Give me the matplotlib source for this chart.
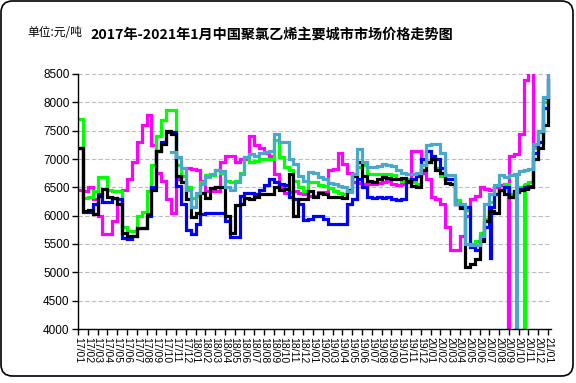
import numpy as np
import matplotlib
matplotlib.use('Agg')
from matplotlib import pyplot as plt
from matplotlib.patches import FancyBboxPatch
from matplotlib.transforms import ScaledTranslation

# half-month steps from 17/01 (0) to 21/01 (48)
months = np.arange(0, 48.5, 0.5)
month_labels = ['%d/%02d' % (17 + i // 12, i % 12 + 1) for i in range(49)]

magenta = [6450, 6440, 6500, 6300, 6000, 5680, 5680, 5900, 6200, 6450, 6650, 6950, 7300, 7600, 7780, 7250, 6750, 6620, 6300, 6050,
           6650, 6700, 6850, 6820, 6800, 6620, 6440, 6440, 6440, 6950, 7060, 7060, 6950, 7000, 7000, 7400, 7250, 7200, 7100, 7050,
           6740, 6500, 6400, 6420, 6430, 6400, 6380, 6350, 6350, 6420, 6420, 6800, 6820, 7100, 6920, 6760, 6600, 6580, 6560, 6560,
           6560, 6570, 6600, 6620, 6560, 6550, 6560, 6600, 7150, 7150, 6750, 6650, 6330, 6300, 6200, 5800, 5400, 5400, 5650, 6000,
           6300, 6350, 6500, 6470, 6460, 6500, 6540, 6560, 7060, 7080, 7450, 8400, 8550, 7250, 7480, 8080, 8460]
green = [7700, 6320, 6330, 6440, 6680, 6680, 6450, 6440, 6440, 5800, 5730, 5730, 6000, 6060, 6440, 6900, 7400, 7690, 7860, 7860,
         6900, 6700, 6500, 6320, 6350, 6600, 6710, 6720, 6800, 6750, 6620, 6600, 6620, 6760, 7030, 6950, 6970, 7000, 7000, 7000,
         7330, 7035, 6860, 6800, 6620, 6500, 6440, 6590, 6600, 6540, 6520, 6480, 6440, 6400, 6380, 6420, 6740, 6860, 6900, 6740,
         6740, 6730, 6740, 6740, 6710, 6640, 6620, 6640, 6600, 6560, 6800, 6950, 7000, 6850, 6700, 6650, 6650, 6280, 6150, 6100,
         5500, 5550, 5700, 5950, 6250, 6380, 6450, 6560, 6380, 6440, 6500, 6560, 6600, 7200, 7500, 8000, 8400]
blue = [7200, 6060, 6060, 6200, 6380, 6240, 6240, 6320, 6300, 5600, 5590, 5650, 5790, 5790, 6000, 6500, 7150, 7300, 7480, 7480,
        6530, 6200, 5750, 5680, 5850, 6030, 6040, 6040, 6040, 6040, 5900, 5620, 5620, 6350, 6400, 6400, 6380, 6450, 6550, 6650,
        6600, 6560, 6540, 6330, 6300, 6200, 5920, 5940, 6000, 6000, 5950, 5850, 5850, 5850, 5850, 6200, 6300, 6650, 6500, 6330,
        6320, 6330, 6320, 6330, 6300, 6270, 6290, 6600, 6650, 6700, 7000, 7150, 7050, 7000, 6850, 6650, 6650, 6200, 6150, 6150,
        5450, 5400, 5600, 5800, 6150, 6380, 6450, 6500, 6330, 6420, 6470, 6500, 6530, 7100, 7300, 7900, 8400]
black = [7200, 6090, 6100, 6030, 6350, 6470, 6330, 6320, 6200, 5700, 5645, 5645, 5790, 5790, 6030, 6450, 7150, 7270, 7500, 7450,
         6700, 6600, 6300, 5970, 6050, 6400, 6320, 6480, 6500, 6500, 6000, 5700, 6180, 6200, 6320, 6300, 6330, 6380, 6380, 6380,
         6500, 6450, 6470, 6740, 6000, 6300, 6290, 6430, 6330, 6400, 6380, 6330, 6330, 6330, 6320, 6450, 6700, 6950, 6700, 6620,
         6590, 6650, 6680, 6660, 6640, 6650, 6660, 6620, 6530, 6500, 6800, 6950, 7000, 6800, 6750, 6570, 6560, 6200, 6130, 5100,
         5150, 5230, 5550, 5900, 6090, 6050, 6450, 6380, 6330, 6440, 6460, 6470, 6500, 7000, 7200, 7600, 8100]
teal = [np.nan] * 19 + \
       [7120, 7035, 6850, 6450, 6150, 6400, 6560, 6680, 6740, 6800, 6780, 6500, 6450, 6590, 6740, 7035, 7090, 7050, 7100, 7120, 7150,
        7450, 7300, 7300, 7000, 6920, 6700, 6620, 6770, 6750, 6680, 6650, 6580, 6560, 6520, 6500, 6440, 6740, 7180, 6950, 6860,
        6860, 6880, 6920, 6900, 6880, 6800, 6760, 6740, 6740, 6760, 6900, 7240, 7270, 7260, 7100, 6710, 6710, 6200, 6200, 5500,
        5480, 5480, 5650, 6200, 6380, 6550, 6710, 6680, 6710, 6740, 6780, 6800, 6830, 7265, 7500, 8100, 8480]

# one-day outliers (month, price)
magenta_drop = (43.9, 0)
teal_drop = (44.75, 0)
green_drop = (45.55, 0)
blue_drop = (42.05, 5250)


def add_drop(x, y, drop):
    # insert a narrow dip that returns to the previous level
    at, low = drop
    i = np.searchsorted(x, at)
    prev = y[i - 1]
    return np.insert(x, i, [at, at + 0.12]), np.insert(y, i, [low, prev])


fig = plt.figure(figsize=(5.76, 3.83), dpi=100)
ax = fig.add_axes([78 / 576, 1 - 329 / 383, (551 - 78) / 576, (329 - 74) / 383])

series = [(magenta, '#FF00FF', magenta_drop),
          (green, '#00FF00', green_drop),
          (blue, '#0000FF', blue_drop),
          (black, '#000000', None),
          (teal, '#4AA8C8', teal_drop)]
for values, color, drop in series:
    x, y = months, np.array(values, dtype=float)
    if drop is not None:
        x, y = add_drop(x, y, drop)
    ax.plot(x, y, color=color, lw=2.3, drawstyle='steps-post', solid_joinstyle='miter')

ax.set_xlim(0, 48.3)
ax.set_ylim(4000, 8500)
ax.set_yticks(np.arange(4000, 8501, 500))
ax.set_xticks(np.arange(49))
ax.set_xticklabels(month_labels, rotation=-90, fontsize=7.5, family='Liberation Sans')
for lab in ax.get_xticklabels():
    lab.set_transform(lab.get_transform() + ScaledTranslation(-0.04, 0, fig.dpi_scale_trans))
for lab in ax.get_yticklabels():
    lab.set_fontsize(8.5)
    lab.set_family('Liberation Sans')
ax.tick_params(axis='both', direction='out', length=4, width=1, color='black', pad=2)
ax.grid(axis='y', color='#BDBDBD', linestyle=(0, (4, 2)), lw=0.8)
ax.set_axisbelow(True)
for side in ['top', 'right']:
    ax.spines[side].set_visible(False)
for side in ['left', 'bottom']:
    ax.spines[side].set_linewidth(1)

fig.text(27 / 576, 1 - 33 / 383, '单位:元/吨', fontsize=8.5, family='Noto Sans CJK SC', va='center')
fig.text(90 / 576, 1 - 35 / 383, '2017年-2021年1月中国聚氯乙烯主要城市市场价格走势图',
         fontsize=10.2, fontweight='bold', family='Noto Sans CJK SC', va='center')

# rounded frame round the whole picture
frame = FancyBboxPatch((1 / 576, 1 - 376 / 383), 572 / 576, 375 / 383, transform=fig.transFigure,
                       boxstyle='round,pad=0,rounding_size=0.02', mutation_aspect=576 / 383,
                       fill=False, edgecolor='black', lw=1.2)
fig.patches.append(frame)

plt.savefig('out.png', dpi=100)
plt.close()
